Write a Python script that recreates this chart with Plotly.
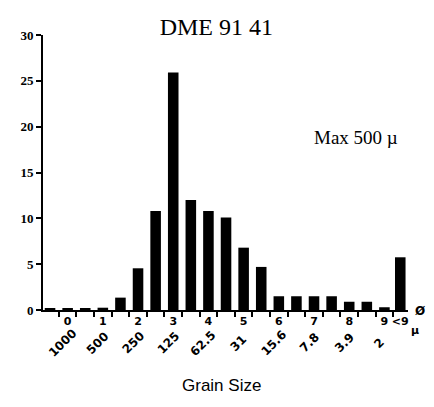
import plotly.graph_objects as go

# Phi class positions (half-phi), last one is "<9"
phi_pos = [-0.5, 0, 0.5, 1, 1.5, 2, 2.5, 3, 3.5, 4, 4.5, 5, 5.5, 6, 6.5, 7, 7.5, 8, 8.5, 9, 9.45]
percent = [0.15, 0.15, 0.15, 0.25, 1.35, 4.55, 10.8, 25.9, 12.0, 10.8, 10.1, 6.8, 4.7, 1.5, 1.5, 1.5, 1.5, 0.9, 0.9, 0.3, 5.75]

phi_tick_vals = [0, 1, 2, 3, 4, 5, 6, 7, 8, 9, 9.45]
phi_tick_text = ["0", "1", "2", "3", "4", "5", "6", "7", "8", "9", "<9"]
micron_vals = [0, 1, 2, 3, 4, 5, 6, 7, 8, 9]
micron_text = ["1000", "500", "250", "125", "62.5", "31", "15.6", "7.8", "3.9", "2"]
minor_ticks = [-0.25, 0.25, 0.75, 1.25, 1.75, 2.25, 2.75, 3.25, 3.75, 4.25, 4.75,
               5.25, 5.75, 6.25, 6.75, 7.25, 7.75, 8.25, 8.75, 9.25]
y_ticks = [0, 5, 10, 15, 20, 25, 30]

fig = go.Figure()
fig.add_trace(go.Bar(x=phi_pos, y=percent, width=0.3,
                     marker=dict(color="black", line=dict(width=0))))

serif = "Liberation Serif"
bold_sans = dict(family="DejaVu Sans", color="black", weight="bold")
fig.update_layout(
    width=434, height=407,
    margin=dict(l=27, r=34, t=27, b=105),
    paper_bgcolor="white", plot_bgcolor="white",
    showlegend=False,
    title=dict(text="DME 91 41", x=0.48, xanchor="center", y=0.975, yanchor="top",
               font=dict(family=serif, size=24, color="black")),
    xaxis=dict(range=[-0.7, 9.67], showgrid=False, zeroline=False,
               showline=True, linecolor="black", linewidth=2,
               tickvals=phi_tick_vals, ticktext=phi_tick_text, ticks="",
               tickfont=dict(size=11, **bold_sans),
               minor=dict(tickvals=minor_ticks, ticks="outside", ticklen=5,
                          tickcolor="black", tickwidth=1.5, showgrid=False)),
    yaxis=dict(range=[0, 30], showgrid=False, zeroline=False,
               showline=True, linecolor="black", linewidth=2,
               tickvals=y_ticks, ticks="outside", ticklen=5, tickwidth=1.5,
               tickcolor="black",
               tickfont=dict(family=serif, size=13, color="black", weight="bold")),
)

for v, t in zip(micron_vals, micron_text):
    fig.add_annotation(x=v, y=-0.12, xref="x", yref="paper", text=t, showarrow=False,
                       textangle=-45, xanchor="center", yanchor="middle", xshift=-5,
                       font=dict(size=12, **bold_sans))

fig.add_annotation(x=1.051, y=-0.036, xref="paper", yref="paper", text="Ø",
                   showarrow=False, font=dict(size=12, **bold_sans))
fig.add_annotation(x=1.035, y=-0.105, xref="paper", yref="paper", text="µ",
                   showarrow=False, font=dict(size=11, **bold_sans))
fig.add_annotation(x=8.19, y=18.8, xref="x", yref="y", text="Max 500 µ", showarrow=False,
                   font=dict(family=serif, size=19, color="black"))
fig.add_annotation(x=0.49, y=-0.273, xref="paper", yref="paper", yanchor="middle",
                   text="Grain Size", showarrow=False,
                   font=dict(family="Liberation Sans", size=17, color="black"))

fig.write_html("out.html")
